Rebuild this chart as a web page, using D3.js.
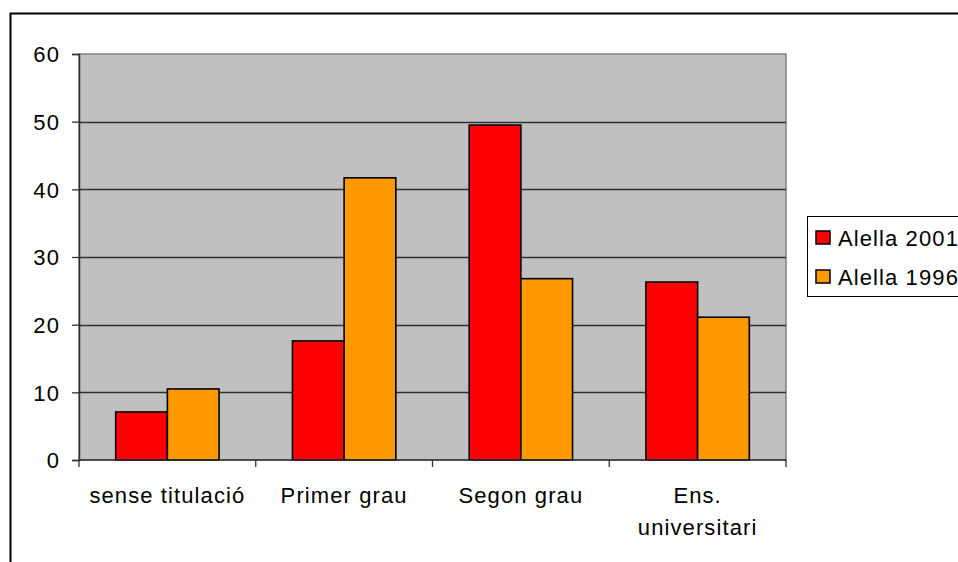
<!DOCTYPE html>
<html>
<head>
<meta charset="utf-8">
<script src="https://cdn.jsdelivr.net/npm/d3@7"></script>
<style>
  html, body { margin: 0; padding: 0; background: #fff; }
  svg { display: block; }
  text { font-family: "Liberation Sans", Arial, sans-serif; fill: #000; }
</style>
</head>
<body>
<svg id="chart" width="958" height="562"></svg>
<script>
// Nivell d'estudis (%), Alella 2001 i 1996
const categories = [["sense titulació"], ["Primer grau"], ["Segon grau"], ["Ens.", "universitari"]];
const seriesNames = ["Alella 2001", "Alella 1996"];
const alella2001 = [7.1, 17.6, 49.5, 26.3];
const alella1996 = [10.5, 41.7, 26.8, 21.1];
const yTicks = [0, 10, 20, 30, 40, 50, 60];
const colors = ["#FF0000", "#FF9900"];

const FONT = "'Liberation Sans', Arial, sans-serif";
const FS = 22;
const LS = "1.1px";

const svg = d3.select("#chart");
const W = 958, H = 562;
const plot = { left: 79, top: 54, right: 786, bottom: 460 };

// outer chart frame (extends past the right and bottom edges)
svg.append("rect")
  .attr("x", 10.5).attr("y", 13.5)
  .attr("width", W + 20).attr("height", H + 20)
  .attr("fill", "#fff").attr("stroke", "#000").attr("stroke-width", 2);

const x0 = d3.scaleBand()
  .domain(d3.range(categories.length))
  .range([plot.left, plot.right])
  .paddingInner(0).paddingOuter(0);

const x1 = d3.scaleBand()
  .domain(d3.range(seriesNames.length))
  .range([0, x0.bandwidth()])
  .paddingInner(0)
  .paddingOuter(0.71);

const y = d3.scaleLinear().domain([0, 60]).range([plot.bottom, plot.top]);

// plot background
svg.append("rect")
  .attr("x", plot.left).attr("y", plot.top)
  .attr("width", plot.right - plot.left).attr("height", plot.bottom - plot.top)
  .attr("fill", "#C0C0C0").attr("stroke", "#808080").attr("stroke-width", 1.5);

// gridlines
svg.append("g")
  .selectAll("line")
  .data(yTicks.filter(d => d > 0 && d < 60))
  .join("line")
  .attr("x1", plot.left).attr("x2", plot.right)
  .attr("y1", d => Math.round(y(d)) + 0.5).attr("y2", d => Math.round(y(d)) + 0.5)
  .attr("stroke", "#303030").attr("stroke-width", 1.3);

// bars
const data = categories.map((c, i) => [alella2001[i], alella1996[i]]);
const groups = svg.append("g").selectAll("g")
  .data(data)
  .join("g")
  .attr("transform", (d, i) => `translate(${x0(i)},0)`);

groups.selectAll("rect")
  .data(d => d.map((v, s) => ({ v, s })))
  .join("rect")
  .attr("x", d => x1(d.s))
  .attr("y", d => y(d.v))
  .attr("width", x1.bandwidth())
  .attr("height", d => y(0) - y(d.v))
  .attr("fill", d => colors[d.s])
  .attr("stroke", "#000").attr("stroke-width", 1.6);

// y axis
const yAxis = d3.axisLeft(y).tickValues(yTicks).tickSize(7).tickPadding(13);
const gy = svg.append("g").attr("transform", `translate(${plot.left},0)`).call(yAxis);
gy.attr("font-family", null).attr("font-size", null);
gy.select(".domain").attr("stroke", "#303030").attr("stroke-width", 1.5);
gy.selectAll(".tick line").attr("stroke", "#303030").attr("stroke-width", 1.3);
gy.selectAll(".tick text")
  .style("font-family", FONT).style("font-size", FS + "px").style("letter-spacing", LS)
  .attr("dy", "0.35em").attr("dx", "1px");

// x axis with ticks at category boundaries
const boundaries = d3.range(categories.length + 1).map(i => plot.left + i * x0.bandwidth());
const gx = svg.append("g");
gx.append("line")
  .attr("x1", plot.left).attr("x2", plot.right)
  .attr("y1", plot.bottom).attr("y2", plot.bottom)
  .attr("stroke", "#303030").attr("stroke-width", 1.5);
gx.selectAll("line.tk")
  .data(boundaries)
  .join("line").attr("class", "tk")
  .attr("x1", d => d).attr("x2", d => d)
  .attr("y1", plot.bottom).attr("y2", plot.bottom + 7)
  .attr("stroke", "#303030").attr("stroke-width", 1.3);

gx.selectAll("text")
  .data(categories)
  .join("text")
  .attr("text-anchor", "middle")
  .style("font-family", FONT).style("font-size", FS + "px").style("letter-spacing", LS)
  .each(function (lines, i) {
    const t = d3.select(this);
    lines.forEach((ln, k) => {
      t.append("tspan")
        .attr("x", x0(i) + x0.bandwidth() / 2)
        .attr("y", 503 + k * 32)
        .text(ln);
    });
  });

// legend
const lg = svg.append("g");
lg.append("rect")
  .attr("x", 807.5).attr("y", 216.5).attr("width", 200).attr("height", 80)
  .attr("fill", "#fff").attr("stroke", "#000").attr("stroke-width", 1);
const items = lg.selectAll("g.item")
  .data(seriesNames)
  .join("g").attr("class", "item")
  .attr("transform", (d, i) => `translate(816,${231 + i * 39})`);
items.append("rect")
  .attr("width", 14).attr("height", 13)
  .attr("fill", (d, i) => colors[i])
  .attr("stroke", "#000").attr("stroke-width", 1.5);
items.append("text")
  .attr("x", 22).attr("y", 7)
  .attr("dy", "0.35em")
  .style("font-family", FONT).style("font-size", FS + "px").style("letter-spacing", LS)
  .text(d => d);
</script>
</body>
</html>
